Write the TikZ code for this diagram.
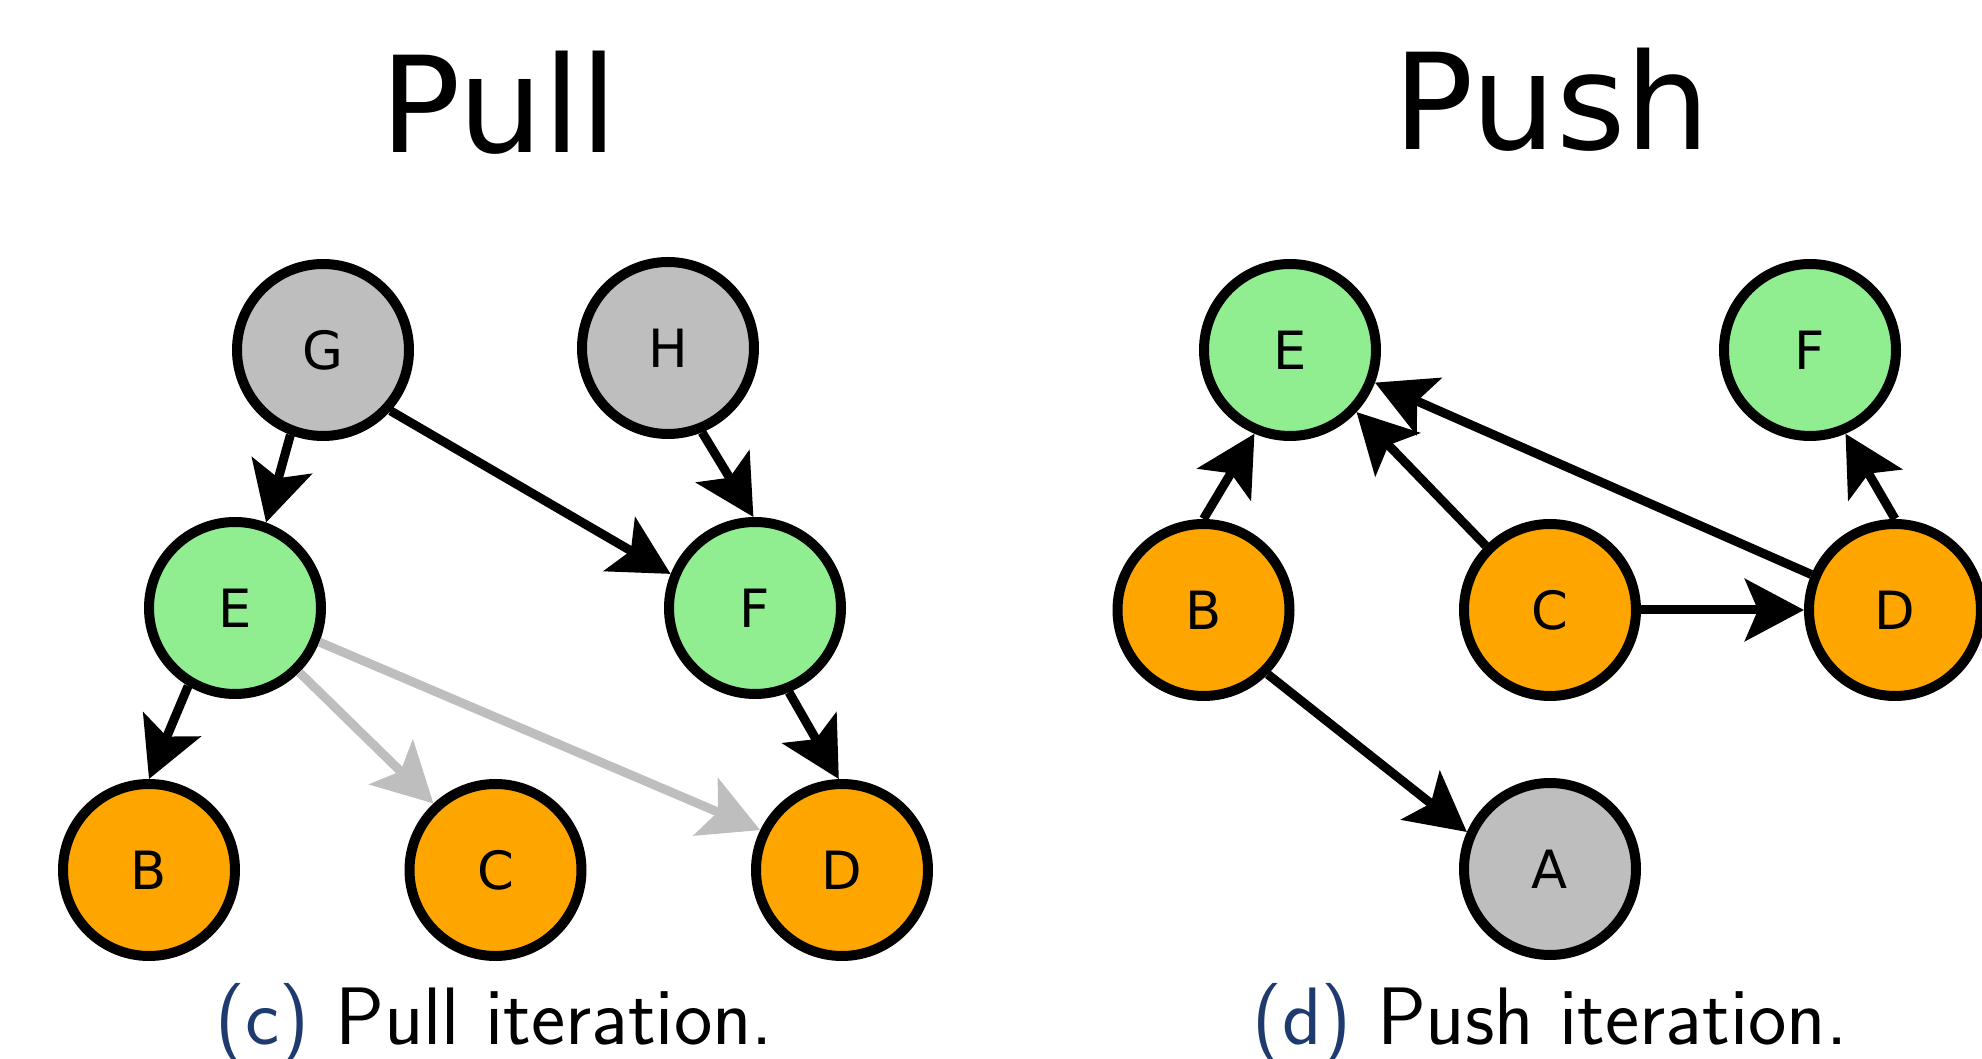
\documentclass[tikz,border=0pt]{standalone}
\usepackage{fontspec}
\usepackage{xcolor}
\usetikzlibrary{arrows.meta}

\newfontfamily\verafont{DejaVu Sans}
\definecolor{idle}{HTML}{BEBEBE}
\definecolor{active}{HTML}{90EE90}
\definecolor{reached}{HTML}{FFA500}
\definecolor{sublabel}{RGB}{30,58,110}

\begin{document}
\begin{tikzpicture}[
		vertex/.style={circle, draw=black, line width=0.1cm, minimum size=1.72cm, inner sep=0pt,
			font=\verafont\fontsize{15}{18}\selectfont},
		edge/.style={line width=0.09cm, -{Stealth[length=5.9mm, width=6.2mm, inset=1.3mm]}},
		title/.style={anchor=base, font=\verafont\fontsize{38}{44}\selectfont},
		caption/.style={anchor=base, font=\sffamily\fontsize{23.2}{28}\selectfont}
	]
		\useasboundingbox (0,0) rectangle (19.82,10.59);

		% Titles
		\node[title] (pulltitle) at (4.99,9.065) {Pull};
		\node[title] (pushtitle) at (15.52,9.09) {Push};

		% Pull graph
		\node[vertex, fill=idle] (pullG) at (3.23,7.09) {G};
		\node[vertex, fill=idle] (pullH) at (6.68,7.11) {H};
		\node[vertex, fill=active] (pullE) at (2.35,4.51) {E};
		\node[vertex, fill=active] (pullF) at (7.55,4.51) {F};
		\node[vertex, fill=reached] (pullB) at (1.49,1.89) {B};
		\node[vertex, fill=reached] (pullC) at (4.955,1.89) {C};
		\node[vertex, fill=reached] (pullD) at (8.42,1.89) {D};

		\draw[edge] (pullG.249.5) -- (pullE.70);
		\draw[edge] (pullG.-42.8) -- (pullF.158.8);
		\draw[edge] (pullH.-68) -- (pullF.91.6);
		\draw[edge] (pullE.239) -- (pullB.90);
		\draw[edge] (pullF.-68) -- (pullD.92);
		\draw[edge, idle] (pullE.-45) -- (pullC.133.4);
		\draw[edge, idle] (pullE.-22.6) -- (pullD.154.8);

		% Push graph
		\node[vertex, fill=active] (pushE) at (12.90,7.09) {E};
		\node[vertex, fill=active] (pushF) at (18.10,7.09) {F};
		\node[vertex, fill=reached] (pushB) at (12.035,4.49) {B};
		\node[vertex, fill=reached] (pushC) at (15.50,4.49) {C};
		\node[vertex, fill=reached] (pushD) at (18.95,4.49) {D};
		\node[vertex, fill=idle] (pushA) at (15.50,1.90) {A};

		\draw[edge] (pushB.90) -- (pushE.247);
		\draw[edge] (pushC.135) -- (pushE.-43.3);
		\draw[edge] (pushD.157.8) -- (pushE.-21);
		\draw[edge] (pushD.90) -- (pushF.-67);
		\draw[edge] (pushC.0) -- (pushD.180);
		\draw[edge] (pushB.-45.6) -- (pushA.156.4);

		% Captions
		\node[caption] (pullcap) at (4.945,0.14) {{\color{sublabel}(c)} Pull iteration.};
		\node[caption] (pushcap) at (15.50,0.14) {{\color{sublabel}(d)} Push iteration.};
	\end{tikzpicture}
\end{document}
